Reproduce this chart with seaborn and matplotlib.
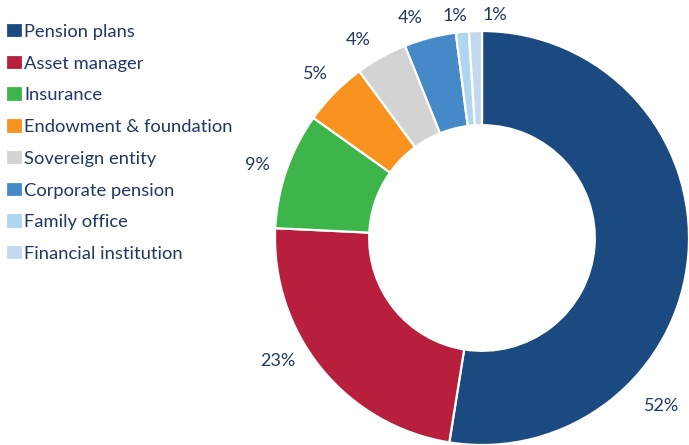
import matplotlib
matplotlib.use("Agg")
import matplotlib.pyplot as plt
import numpy as np
import seaborn as sns

# Investor types and their share of the total (%)
categories = ["Pension plans", "Asset manager", "Insurance", "Endowment & foundation",
              "Sovereign entity", "Corporate pension", "Family office", "Financial institution"]
shares = [52, 23, 9, 5, 4, 4, 1, 1]
colors = ["#1a4a7f", "#b81f3d", "#3db54b", "#f7931e",
          "#d3d3d3", "#4689c8", "#aed6f1", "#c5d9ee"]

# label placement: angular nudge (degrees) and radius (in units of the outer radius)
label_nudge = [-38.5, -8.0, 1.0, 0.0, 3.0, 3.5, 1.5, -5.0]
label_radius = [1.19, 1.15, 1.14, 1.13, 1.13, 1.12, 1.08, 1.08]

sns.set_theme(style="white")
plt.rcParams["font.family"] = ["Lato", "DejaVu Sans"]
text_color = "#203864"

W, H = 689, 445
fig = plt.figure(figsize=(W / 100, H / 100), dpi=100)
ax = fig.add_axes([0, 0, 1, 1])

cx, cy, R = 482, 238, 207
wedges, _ = ax.pie(shares, colors=sns.color_palette(colors), startangle=90, counterclock=False,
                   radius=1.0, wedgeprops=dict(width=0.455, edgecolor="white", linewidth=1.6))

total = sum(shares)
start = 90.0
for i, v in enumerate(shares):
    span = 360.0 * v / total
    mid = start - span / 2 + label_nudge[i]
    r = label_radius[i]
    ax.text(r * np.cos(np.radians(mid)), r * np.sin(np.radians(mid)), f"{v}%",
            ha="center", va="center", fontsize=13, color=text_color)
    start -= span

ax.set_xlim(-cx / R, (W - cx) / R)
ax.set_ylim(-(H - cy) / R, cy / R)
ax.set_aspect("auto")
ax.axis("off")

fig.legend(wedges, categories, loc="upper left", bbox_to_anchor=(6 / W, 1 - 23 / H),
           frameon=False, fontsize=13.2, handlelength=0.92, handleheight=0.92,
           handletextpad=0.08, labelspacing=0.80, borderaxespad=0, borderpad=0,
           labelcolor=text_color)

fig.savefig("out.png", dpi=100)
